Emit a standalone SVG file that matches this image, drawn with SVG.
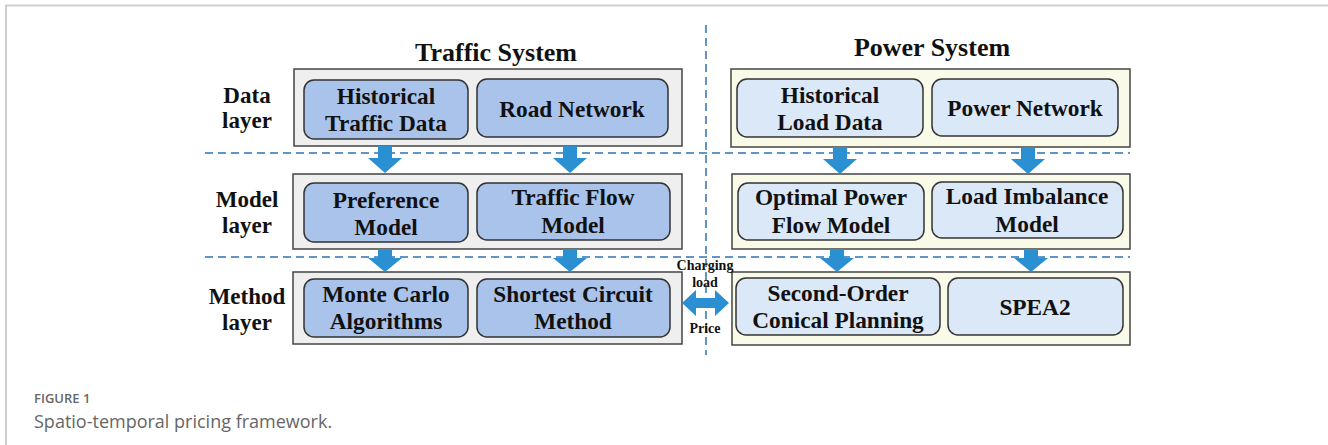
<svg xmlns="http://www.w3.org/2000/svg" width="1328" height="445" viewBox="0 0 1328 445">
<style>
.t{font-family:"Liberation Serif","Times New Roman",serif;font-weight:bold;fill:#111;text-anchor:middle}
.box{font-size:23.3px}
.lbl{font-size:23px}
.ttl{font-size:26px}
.sm{font-size:14px}
.cL{fill:#efefef;stroke:#444;stroke-width:1.5}
.cR{fill:#fafae8;stroke:#444;stroke-width:1.5}
.bL{fill:#aac3ea;stroke:#333;stroke-width:1.5}
.bR{fill:#dbe8f7;stroke:#333;stroke-width:1.5}
.dash{stroke:#2f73b3;stroke-width:1.5;stroke-dasharray:8 5;fill:none}
.arr{fill:#2a90d2}
.cap{font-family:"Open Sans","Noto Sans",sans-serif;fill:#666}
</style>
<rect width="1328" height="445" fill="#fff"/>
<path d="M6,445 V5.5 H1328" fill="none" stroke="#cfcfcf" stroke-width="2"/>

<text class="t ttl" x="496" y="61">Traffic System</text>
<text class="t ttl" x="932" y="56">Power System</text>

<g id="layer-labels">
<text class="t lbl" x="247" y="103">Data</text>
<text class="t lbl" x="247" y="128">layer</text>
<text class="t lbl" x="247" y="207">Model</text>
<text class="t lbl" x="247" y="233">layer</text>
<text class="t lbl" x="247" y="304">Method</text>
<text class="t lbl" x="247" y="330">layer</text>
</g>

<g id="containers">
<rect class="cL" x="294" y="69" width="388" height="77"/>
<rect class="cL" x="293" y="174" width="389" height="75"/>
<rect class="cL" x="293" y="272" width="389" height="72"/>
<rect class="cR" x="731" y="69" width="399" height="78"/>
<rect class="cR" x="732" y="174" width="398" height="75"/>
<rect class="cR" x="732" y="272" width="398" height="73"/>
</g>

<g id="n-hist-traffic"><rect class="bL" x="304" y="80" width="164" height="59" rx="10"/>
<text class="t box" x="386" y="104">Historical</text><text class="t box" x="386" y="131">Traffic Data</text></g>
<g id="n-road"><rect class="bL" x="477" y="79" width="191" height="58" rx="10"/>
<text class="t box" x="572" y="117">Road Network</text></g>
<g id="n-pref"><rect class="bL" x="304" y="183" width="164" height="59" rx="10"/>
<text class="t box" x="386" y="208">Preference</text><text class="t box" x="386" y="235">Model</text></g>
<g id="n-tflow"><rect class="bL" x="477" y="183" width="193" height="57" rx="10"/>
<text class="t box" x="573" y="205">Traffic Flow</text><text class="t box" x="573" y="233">Model</text></g>
<g id="n-monte"><rect class="bL" x="304" y="279" width="164" height="58" rx="10"/>
<text class="t box" x="386" y="302">Monte Carlo</text><text class="t box" x="386" y="329">Algorithms</text></g>
<g id="n-shortest"><rect class="bL" x="477" y="279" width="193" height="58" rx="10"/>
<text class="t box" x="573" y="302">Shortest Circuit</text><text class="t box" x="573" y="329">Method</text></g>

<g id="n-hist-load"><rect class="bR" x="737" y="79" width="186" height="58" rx="10"/>
<text class="t box" x="830" y="103">Historical</text><text class="t box" x="830" y="130">Load Data</text></g>
<g id="n-pnet"><rect class="bR" x="932" y="79" width="186" height="57" rx="10"/>
<text class="t box" x="1025" y="116">Power Network</text></g>
<g id="n-opf"><rect class="bR" x="738" y="183" width="186" height="57" rx="10"/>
<text class="t box" x="831" y="205">Optimal Power</text><text class="t box" x="831" y="233">Flow Model</text></g>
<g id="n-imb"><rect class="bR" x="932" y="182" width="191" height="56" rx="10"/>
<text class="t box" x="1027" y="204">Load Imbalance</text><text class="t box" x="1027" y="232">Model</text></g>
<g id="n-socp"><rect class="bR" x="736" y="278" width="204" height="57" rx="10"/>
<text class="t box" x="838" y="301">Second-Order</text><text class="t box" x="838" y="328">Conical Planning</text></g>
<g id="n-spea"><rect class="bR" x="948" y="278" width="175" height="57" rx="10"/>
<text class="t box" x="1035" y="315">SPEA2</text></g>

<g id="connectors">
<line class="dash" x1="205" y1="153" x2="1130" y2="153"/>
<line class="dash" x1="205" y1="257" x2="1130" y2="257"/>
<line class="dash" x1="706" y1="25" x2="706" y2="355"/>
<path class="arr" d="M378,146 h14 v12 h10 l-17,15 l-17,-15 h10 z"/>
<path class="arr" d="M563,146 h14 v12 h10 l-17,15 l-17,-15 h10 z"/>
<path class="arr" d="M833,147 h14 v12 h10 l-17,15 l-17,-15 h10 z"/>
<path class="arr" d="M1021,147 h14 v12 h10 l-17,15 l-17,-15 h10 z"/>
<path class="arr" d="M378,249 h14 v9 h10 l-17,14 l-17,-14 h10 z"/>
<path class="arr" d="M563,249 h14 v9 h10 l-17,14 l-17,-14 h10 z"/>
<path class="arr" d="M830,249 h14 v9 h10 l-17,14 l-17,-14 h10 z"/>
<path class="arr" d="M1024,249 h14 v9 h10 l-17,14 l-17,-14 h10 z"/>
<path class="arr" d="M682,303 l14,-13 v8 h19 v-8 l14,13 l-14,13 v-8 h-19 v8 z"/>
<text class="t sm" x="705" y="270">Charging</text>
<text class="t sm" x="705" y="287">load</text>
<text class="t sm" x="705" y="333">Price</text>
</g>

<text class="cap" x="34" y="403" font-size="13" font-weight="600">FIGURE 1</text>
<text class="cap" x="34" y="428" font-size="18" fill="#555">Spatio-temporal pricing framework.</text>
</svg>
